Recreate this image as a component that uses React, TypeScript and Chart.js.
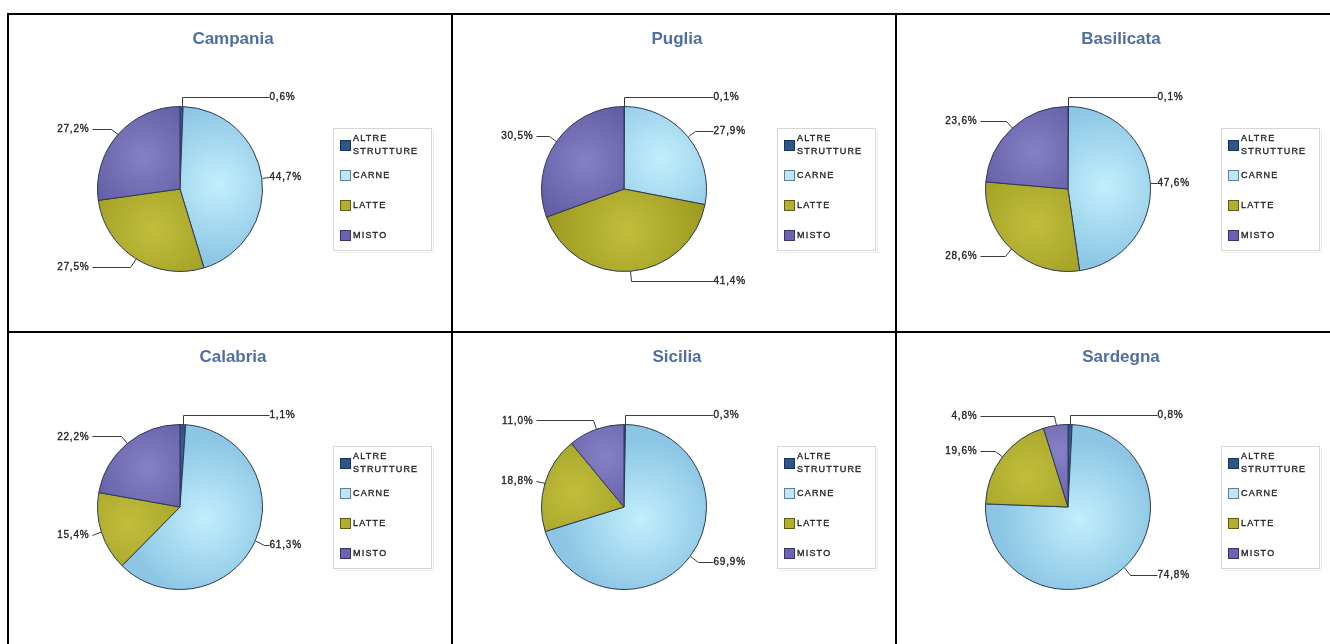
import React, { useEffect, useRef } from "react";
import { Chart, registerables } from "chart.js";

Chart.register(...registerables);

// ---- data ----
const categories = ["ALTRE STRUTTURE", "CARNE", "LATTE", "MISTO"];
const legendLines = [["ALTRE", "STRUTTURE"], ["CARNE"], ["LATTE"], ["MISTO"]];
const regions = ["Campania", "Puglia", "Basilicata", "Calabria", "Sicilia", "Sardegna"];
const campania = [0.6, 44.7, 27.5, 27.2];
const puglia = [0.1, 27.9, 41.4, 30.5];
const basilicata = [0.1, 47.6, 28.6, 23.6];
const calabria = [1.1, 61.3, 15.4, 22.2];
const sicilia = [0.3, 69.9, 18.8, 11.0];
const sardegna = [0.8, 74.8, 19.6, 4.8];
const regionValues = [campania, puglia, basilicata, calabria, sicilia, sardegna];

// ---- styles ----
const lightColors = ["#3b5f96", "#c2eefc", "#c2bd3c", "#8680c6"];
const darkColors = ["#1e3a66", "#8cc6e4", "#9c9a20", "#5a549c"];
const swatchFill = ["#2c5589", "#c0e6f6", "#b2ae2e", "#6a63b2"];
const swatchBorder = ["#1a3358", "#5d7f9c", "#5e5c12", "#36326a"];
const FONT = '"Liberation Sans", Arial, sans-serif';
const W = 442;
const H = 316;

function sliceFill(ctx: any) {
  const i = ctx.dataIndex;
  const chart = ctx.chart;
  const area = chart.chartArea;
  if (ctx.type !== "data" || !area) return darkColors[i % 4];
  const data = ctx.dataset.data as number[];
  const total = data.reduce((s, v) => s + v, 0);
  let cum = 0;
  for (let k = 0; k < i; k++) cum += data[k];
  const alpha = (2 * Math.PI * data[i]) / total;
  const mid = -Math.PI / 2 + (2 * Math.PI * (cum + data[i] / 2)) / total;
  const cx = (area.left + area.right) / 2;
  const cy = (area.top + area.bottom) / 2;
  const r = Math.min(area.right - area.left, area.bottom - area.top) / 2;
  const d = alpha > 0.001 ? (4 * r * Math.sin(alpha / 2)) / (3 * alpha) : r * 0.6;
  const gx = cx + d * Math.cos(mid);
  const gy = cy + d * Math.sin(mid);
  const g = chart.ctx.createRadialGradient(gx, gy, 0, gx, gy, r * 0.95);
  g.addColorStop(0, lightColors[i % 4]);
  g.addColorStop(1, darkColors[i % 4]);
  return g;
}

const fmt = (v: number) => v.toFixed(1).replace(".", ",") + "%";

function heavyText(ctx: CanvasRenderingContext2D, t: string, x: number, y: number) {
  ctx.fillText(t, x, y);
  ctx.lineWidth = 0.35;
  ctx.strokeText(t, x, y);
}

const decorPlugin = {
  id: "panelDecor",
  afterDraw(chart: any, _args: any, opts: any) {
    const ctx = chart.ctx as CanvasRenderingContext2D;
    const meta = chart.getDatasetMeta(0);
    const values = chart.data.datasets[0].data as number[];
    ctx.save();

    // title
    ctx.fillStyle = "#4e6fa6";
    ctx.font = `bold 17px ${FONT}`;
    ctx.textAlign = "center";
    ctx.textBaseline = "middle";
    (ctx as any).letterSpacing = "0px";
    ctx.fillText(opts.title || "", 224, 24);

    // labels with leader lines
    ctx.font = `10px ${FONT}`;
    (ctx as any).letterSpacing = "0.8px";
    ctx.textBaseline = "middle";
    meta.data.forEach((el: any, i: number) => {
      const p = el.getProps(["x", "y", "startAngle", "endAngle", "outerRadius"], true);
      const cx = p.x;
      const cy = p.y;
      const r = p.outerRadius;
      const a = (p.startAngle + p.endAngle) / 2;
      const ca = Math.cos(a);
      const sa = Math.sin(a);
      const R = r * 1.115;
      const ex = cx + r * ca;
      const ey = cy + r * sa;
      const ly = cy + R * sa;
      const right = ca >= 0;
      const endX = right ? cx + r + 6 : cx - r - 6;
      let bx = cx + R * ca;
      bx = right ? Math.min(bx, endX) : Math.max(bx, endX);
      ctx.strokeStyle = "#3a3a3a";
      ctx.lineWidth = 1;
      ctx.beginPath();
      ctx.moveTo(Math.round(ex) + 0.5, ey);
      ctx.lineTo(Math.round(bx) + 0.5, Math.round(ly) + 0.5);
      ctx.lineTo(Math.round(endX) + 0.5, Math.round(ly) + 0.5);
      ctx.stroke();
      ctx.textAlign = right ? "left" : "right";
      ctx.fillStyle = "#262626";
      ctx.strokeStyle = "#262626";
      heavyText(ctx, fmt(values[i]), right ? endX + 1 : endX - 2, ly + 0.5);
    });

    // legend
    const bx0 = 324;
    const by0 = 113;
    ctx.fillStyle = "#ffffff";
    ctx.fillRect(bx0, by0, 99, 123);
    ctx.lineWidth = 1;
    ctx.strokeStyle = "#d6d6d6";
    ctx.strokeRect(bx0 + 0.5, by0 + 0.5, 98, 122);
    ctx.strokeStyle = "#ececec";
    ctx.beginPath();
    ctx.moveTo(bx0 + 100.5, by0 + 2);
    ctx.lineTo(bx0 + 100.5, by0 + 124.5);
    ctx.lineTo(bx0 + 2, by0 + 124.5);
    ctx.stroke();
    ctx.font = `9px ${FONT}`;
    (ctx as any).letterSpacing = "1.2px";
    ctx.textAlign = "left";
    const centers = [130, 160, 190, 220];
    categories.forEach((_c, i) => {
      const yc = centers[i];
      ctx.fillStyle = swatchFill[i];
      ctx.fillRect(331, yc - 5, 11, 11);
      ctx.lineWidth = 1;
      ctx.strokeStyle = swatchBorder[i];
      ctx.strokeRect(331.5, yc - 4.5, 10, 10);
      ctx.fillStyle = "#262626";
      ctx.strokeStyle = "#262626";
      const lines = legendLines[i];
      const lh = 13;
      lines.forEach((t, k) => {
        const y = yc - ((lines.length - 1) * lh) / 2 + k * lh + 0.5;
        heavyText(ctx, t, 344, y);
      });
    });
    ctx.restore();
  },
};

function PiePanel({ title, values }: { title: string; values: number[] }) {
  const ref = useRef<HTMLCanvasElement>(null);
  useEffect(() => {
    const canvas = ref.current;
    if (!canvas) return;
    const chart = new Chart(canvas, {
      type: "pie",
      data: {
        labels: categories,
        datasets: [
          {
            data: values,
            backgroundColor: sliceFill as any,
            borderColor: "#2d3a55",
            borderWidth: 1,
            hoverOffset: 0,
          },
        ],
      },
      options: {
        responsive: false,
        animation: false,
        devicePixelRatio: 1,
        events: [],
        layout: { padding: { left: 88, right: W - 254, top: 91, bottom: H - 257 } },
        plugins: {
          legend: { display: false },
          tooltip: { enabled: false },
          title: { display: false },
          panelDecor: { title },
        } as any,
      },
      plugins: [decorPlugin],
    });
    return () => chart.destroy();
  }, [title, values]);
  return <canvas ref={ref} width={W} height={H} style={{ display: "block", width: W, height: H }} />;
}

const colX = [9, 453, 897];
const rowY = [15, 333];

export default function App() {
  const line = (left: number, top: number, width: number, height: number, key: string) => (
    <div key={key} style={{ position: "absolute", left, top, width, height, background: "#000" }} />
  );
  return (
    <div
      style={{
        position: "absolute",
        left: 0,
        top: 0,
        width: 1330,
        height: 644,
        overflow: "hidden",
        background: "#fff",
      }}
    >
      {regions.map((name, idx) => (
        <div
          key={name}
          style={{ position: "absolute", left: colX[idx % 3], top: rowY[Math.floor(idx / 3)], width: W, height: H }}
        >
          <PiePanel title={name} values={regionValues[idx]} />
        </div>
      ))}
      {line(7, 13, 1330, 2, "top")}
      {line(7, 331, 1330, 2, "mid")}
      {line(7, 13, 2, 640, "l")}
      {line(451, 13, 2, 640, "v1")}
      {line(895, 13, 2, 640, "v2")}
    </div>
  );
}
